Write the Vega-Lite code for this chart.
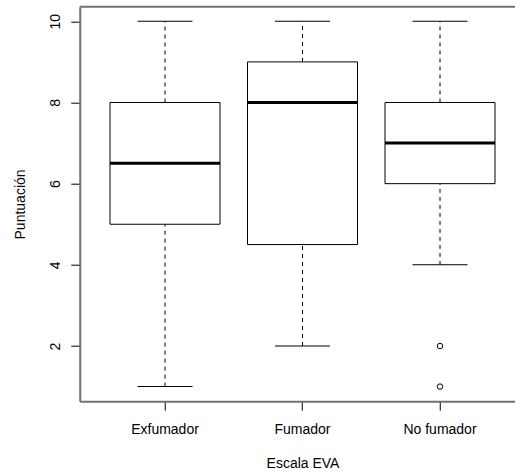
{
  "$schema": "https://vega.github.io/schema/vega-lite/v6.json",
  "width": 435.25,
  "height": 394.5,
  "autosize": "none",
  "padding": {"left": 79.75, "top": 6.7, "right": 0, "bottom": 71.8},
  "background": "white",
  "config": {
    "view": {"stroke": null},
    "font": "Liberation Sans",
    "axis": {
      "grid": false,
      "labelFont": "Liberation Sans",
      "titleFont": "Liberation Sans",
      "labelFontSize": 14,
      "titleFontSize": 14,
      "titleFontWeight": "normal",
      "labelColor": "#000000",
      "titleColor": "#000000",
      "tickColor": "#000000",
      "tickWidth": 1,
      "tickSize": 9,
      "domainColor": "#707070",
      "domainWidth": 2
    }
  },
  "datasets": {
    "cajas": [
      {"grupo": "Exfumador", "minimo": 1, "q1": 5, "mediana": 6.5, "q3": 8, "maximo": 10},
      {"grupo": "Fumador", "minimo": 2, "q1": 4.5, "mediana": 8, "q3": 9, "maximo": 10},
      {"grupo": "No fumador", "minimo": 4, "q1": 6, "mediana": 7, "q3": 8, "maximo": 10}
    ],
    "atipicos": [
      {"grupo": "No fumador", "valor": 2},
      {"grupo": "No fumador", "valor": 1}
    ],
    "marco": [
      {"borde": 10.36}
    ]
  },
  "layer": [
    {
      "data": {"name": "cajas"},
      "encoding": {
        "x": {
          "field": "grupo",
          "type": "nominal",
          "sort": ["Exfumador", "Fumador", "No fumador"],
          "scale": {"type": "band", "paddingInner": 0.2, "paddingOuter": 0.22, "range": [0, 445.5]},
          "axis": {
            "orient": "bottom",
            "labelAngle": 0,
            "labelBaseline": "alphabetic",
            "labelPadding": 23,
            "title": "Escala EVA",
            "titleBaseline": "alphabetic",
            "titleAlign": "center",
            "titleX": 222.75,
            "titleY": 66
          }
        }
      },
      "layer": [
        {
          "mark": {"type": "rule", "stroke": "#000000", "strokeWidth": 1, "strokeDash": [4, 4], "opacity": 1},
          "encoding": {
            "y": {
              "field": "minimo",
              "type": "quantitative",
              "scale": {"domain": [0.64, 10.36], "nice": false, "zero": false},
              "axis": {
                "values": [2, 4, 6, 8, 10],
                "labelAngle": 270,
                "labelAlign": "center",
                "labelBaseline": "alphabetic",
                "labelPadding": 11,
                "title": "Puntuación",
                "titleAngle": 270,
                "titleAlign": "center",
                "titleBaseline": "alphabetic",
                "titleX": -55,
                "titleY": 197.25
              }
            },
            "y2": {"field": "q1"}
          }
        },
        {
          "mark": {"type": "rule", "stroke": "#000000", "strokeWidth": 1, "strokeDash": [4, 4], "opacity": 1},
          "encoding": {
            "y": {"field": "q3", "type": "quantitative"},
            "y2": {"field": "maximo"}
          }
        },
        {
          "mark": {"type": "tick", "color": "#000000", "size": 55, "thickness": 1, "opacity": 1},
          "encoding": {"y": {"field": "minimo", "type": "quantitative"}}
        },
        {
          "mark": {"type": "tick", "color": "#000000", "size": 55, "thickness": 1, "opacity": 1},
          "encoding": {"y": {"field": "maximo", "type": "quantitative"}}
        },
        {
          "mark": {"type": "bar", "fill": "white", "stroke": "#000000", "strokeWidth": 1, "opacity": 1},
          "encoding": {
            "y": {"field": "q1", "type": "quantitative"},
            "y2": {"field": "q3"}
          }
        },
        {
          "mark": {"type": "tick", "color": "#000000", "size": 110, "thickness": 3, "opacity": 1},
          "encoding": {"y": {"field": "mediana", "type": "quantitative"}}
        },
        {
          "data": {"name": "atipicos"},
          "mark": {"type": "point", "shape": "circle", "filled": false, "stroke": "#000000", "strokeWidth": 1, "size": 30, "opacity": 1},
          "encoding": {"y": {"field": "valor", "type": "quantitative"}}
        }
      ]
    },
    {
      "data": {"name": "marco"},
      "mark": {"type": "rule", "stroke": "#707070", "strokeWidth": 2, "opacity": 1},
      "encoding": {"y": {"field": "borde", "type": "quantitative"}}
    }
  ]
}
